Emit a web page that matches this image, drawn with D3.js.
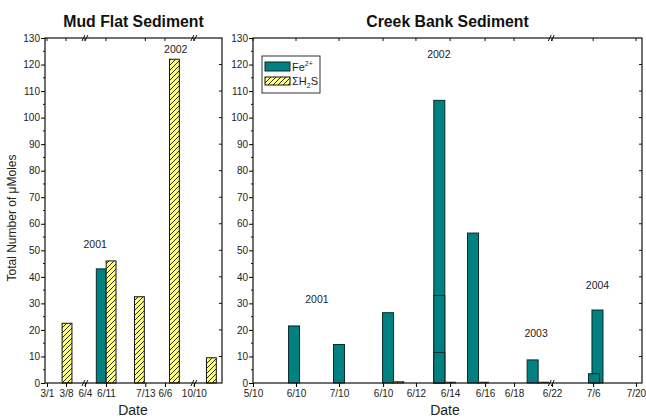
<!DOCTYPE html>
<html>
<head>
<meta charset="utf-8">
<script src="https://cdn.jsdelivr.net/npm/d3@7"></script>
<style>
  body { margin: 0; background: #fff; }
  svg { display: block; font-family: "Liberation Sans", Arial, sans-serif; }
</style>
</head>
<body>
<svg id="chart" width="646" height="419"></svg>
<script>
// ---- Mud flat panel (compressed, broken date axis; positions in axis slots) ----
const leftTickLabels = ["3/1", "3/8", "6/4", "6/11", "7/13", "6/6", "10/10"];
const leftTickSlots  = [0.1, 1.07, 2.03, 3.1, 5.1, 6.1, 7.57];
const leftBreakSlots = [2.03, 7.57];
const leftFeSlots    = [0.62, 2.86, 4.3, 5.7, 7.96];
const leftFe         = [0, 43, 0, 0, 0];
const leftH2SSlots   = [1.12, 3.36, 4.8, 6.58, 8.46];
const leftH2S        = [22.5, 46, 32.5, 122, 9.5];
const leftYears      = ["2001", "2002"];
const leftYearSlots  = [2.55, 6.65];
const leftYearValues = [51, 124.5];

// ---- Creek bank panel ----
const rightTickLabels = ["5/10", "6/10", "7/10", "6/10", "6/12", "6/14", "6/16", "6/18", "6/22", "7/6", "7/20"];
const rightTickSlots  = [0, 0.995, 1.99, 3.01, 3.77, 4.56, 5.37, 6.04, 6.92, 7.87, 8.86];
const rightBreakSlots = [6.9];
// Fe2+ bars, drawn tallest first so the shorter overlaid bars stay visible
const rightFeSlots = [0.95, 1.99, 3.125, 4.31, 4.31, 4.31, 5.09, 6.47, 7.97, 7.89];
const rightFe      = [21.5, 14.5, 26.5, 106.5, 33, 11.5, 56.5, 8.7, 27.5, 3.5];
const rightH2SSlots = [3.36, 4.56, 5.32, 6.71];
const rightH2S      = [0.5, 0.3, 0.3, 0.3];
const rightYears      = ["2001", "2002", "2003", "2004"];
const rightYearSlots  = [1.48, 4.3, 6.55, 7.97];
const rightYearValues = [30, 122.5, 17.5, 35.5];

const yTicks = d3.range(0, 131, 10);
const yMinor = d3.range(5, 130, 10);

const svg = d3.select("#chart");
const TEAL = "#008080";
const FONT = "Liberation Sans, Arial, sans-serif";

// diagonal hatch used for the sulfide bars
const defs = svg.append("defs");
const pat = defs.append("pattern")
  .attr("id", "hatch").attr("patternUnits", "userSpaceOnUse")
  .attr("width", 5).attr("height", 5);
pat.append("rect").attr("width", 5).attr("height", 5).attr("fill", "#ffff80");
pat.append("path")
  .attr("d", "M-1,1 L1,-1 M0,5 L5,0 M4,6 L6,4")
  .attr("stroke", "#111").attr("stroke-width", 0.9);

const y = d3.scaleLinear().domain([0, 130]).range([383, 38]);

function panel(opts) {
  const x = d3.scaleLinear().domain(opts.domain).range(opts.range);
  const g = svg.append("g");
  const [x0, x1] = opts.range;
  const bw = x(opts.barWidth) - x(0);

  // bars
  g.selectAll(".fe").data(opts.feSlots.map((s, i) => ({ s, v: opts.fe[i] })))
    .join("rect")
    .attr("x", d => x(d.s) - bw / 2)
    .attr("y", d => y(d.v))
    .attr("width", bw)
    .attr("height", d => y(0) - y(d.v))
    .attr("fill", TEAL)
    .attr("stroke", d => d.v > 0 ? "#0b2b2b" : "#b8d0d0")
    .attr("stroke-width", 1);
  g.selectAll(".hs").data(opts.h2sSlots.map((s, i) => ({ s, v: opts.h2s[i] })))
    .join("rect")
    .attr("x", d => x(d.s) - bw / 2)
    .attr("y", d => y(d.v))
    .attr("width", bw)
    .attr("height", d => y(0) - y(d.v))
    .attr("fill", "url(#hatch)")
    .attr("stroke", d => d.v > 1 ? "#111" : "#4a4020")
    .attr("stroke-width", 1);

  // frame
  g.append("rect").attr("x", x0).attr("y", y(130))
    .attr("width", x1 - x0).attr("height", y(0) - y(130))
    .attr("fill", "none").attr("stroke", "#111").attr("stroke-width", 1.2);

  // left y axis
  const ya = g.append("g").attr("transform", `translate(${x0},0)`)
    .call(d3.axisLeft(y).tickValues(yTicks).tickSize(4).tickPadding(1));
  ya.select(".domain").remove();
  ya.selectAll("text").attr("font-size", 10).attr("fill", "#222").attr("font-family", FONT);
  g.selectAll(".ymin").data(yMinor).join("line")
    .attr("x1", x0 - 2).attr("x2", x0).attr("y1", d => y(d)).attr("y2", d => y(d))
    .attr("stroke", "#111");
  // right frame ticks pointing inward
  g.selectAll(".yr").data(yTicks.slice(1, -1)).join("line")
    .attr("x1", x1 - 3).attr("x2", x1).attr("y1", d => y(d)).attr("y2", d => y(d))
    .attr("stroke", "#111");

  // bottom axis
  const xa = g.append("g").attr("transform", `translate(0,${y(0)})`)
    .call(d3.axisBottom(x).tickValues(opts.tickSlots).tickSize(4).tickPadding(3)
      .tickFormat((d, i) => opts.tickLabels[i]));
  xa.select(".domain").remove();
  xa.selectAll("text").attr("font-size", 10).attr("fill", "#222").attr("font-family", FONT);
  // top frame ticks pointing inward
  g.selectAll(".xt").data(opts.tickSlots).join("line")
    .attr("x1", d => x(d)).attr("x2", d => x(d))
    .attr("y1", y(130)).attr("y2", y(130) + 3).attr("stroke", "#111");

  // axis break marks on top and bottom
  opts.breakSlots.forEach(b => {
    [y(130), y(0)].forEach(yy => {
      [-1.5, 1.5].forEach(off => {
        g.append("line")
          .attr("x1", x(b) + off - 1.5).attr("y1", yy + 3)
          .attr("x2", x(b) + off + 1.5).attr("y2", yy - 3)
          .attr("stroke", "#111").attr("stroke-width", 1);
      });
    });
  });

  // year labels
  g.selectAll(".yr-l").data(opts.years).join("text")
    .attr("x", (d, i) => x(opts.yearSlots[i]))
    .attr("y", (d, i) => y(opts.yearValues[i]))
    .attr("text-anchor", "middle").attr("font-size", 10.5).attr("fill", "#222")
    .text(d => d);

  // titles
  g.append("text").attr("x", (x0 + x1) / 2).attr("y", 27)
    .attr("text-anchor", "middle").attr("font-size", 15.8).attr("font-weight", "bold")
    .attr("fill", "#111").text(opts.title);
  g.append("text").attr("x", opts.dateX).attr("y", 415)
    .attr("text-anchor", "middle").attr("font-size", 14).attr("fill", "#222")
    .text("Date");
  return x;
}

panel({
  domain: [0, 9], range: [45, 222], barWidth: 0.5,
  tickSlots: leftTickSlots, tickLabels: leftTickLabels, breakSlots: leftBreakSlots,
  feSlots: leftFeSlots, fe: leftFe, h2sSlots: leftH2SSlots, h2s: leftH2S,
  years: leftYears, yearSlots: leftYearSlots, yearValues: leftYearValues,
  title: "Mud Flat Sediment", dateX: 133
});

panel({
  domain: [0, 9], range: [253, 642], barWidth: 0.255,
  tickSlots: rightTickSlots, tickLabels: rightTickLabels, breakSlots: rightBreakSlots,
  feSlots: rightFeSlots, fe: rightFe, h2sSlots: rightH2SSlots, h2s: rightH2S,
  years: rightYears, yearSlots: rightYearSlots, yearValues: rightYearValues,
  title: "Creek Bank Sediment", dateX: 445
});

// y axis title
svg.append("text")
  .attr("transform", "translate(16,218) rotate(-90)")
  .attr("text-anchor", "middle").attr("font-size", 12).attr("fill", "#222")
  .text("Total Number of μMoles");

// legend
const lg = svg.append("g").attr("transform", "translate(262,56)");
lg.append("rect").attr("width", 58).attr("height", 37)
  .attr("fill", "#fff").attr("stroke", "#333").attr("stroke-width", 1);
lg.append("rect").attr("x", 3).attr("y", 6).attr("width", 25).attr("height", 9)
  .attr("fill", TEAL).attr("stroke", "#0b2b2b");
lg.append("rect").attr("x", 3).attr("y", 21).attr("width", 25).attr("height", 8)
  .attr("fill", "url(#hatch)").attr("stroke", "#111");
const t1 = lg.append("text").attr("x", 30).attr("y", 15).attr("font-size", 11).attr("fill", "#222");
t1.append("tspan").text("Fe");
t1.append("tspan").attr("dy", -5).attr("font-size", 7).text("2+");
const t2 = lg.append("text").attr("x", 30).attr("y", 29).attr("font-size", 11).attr("fill", "#222");
t2.append("tspan").text("ΣH");
t2.append("tspan").attr("dy", 3).attr("font-size", 7).text("2");
t2.append("tspan").attr("dy", -3).text("S");
</script>
</body>
</html>
